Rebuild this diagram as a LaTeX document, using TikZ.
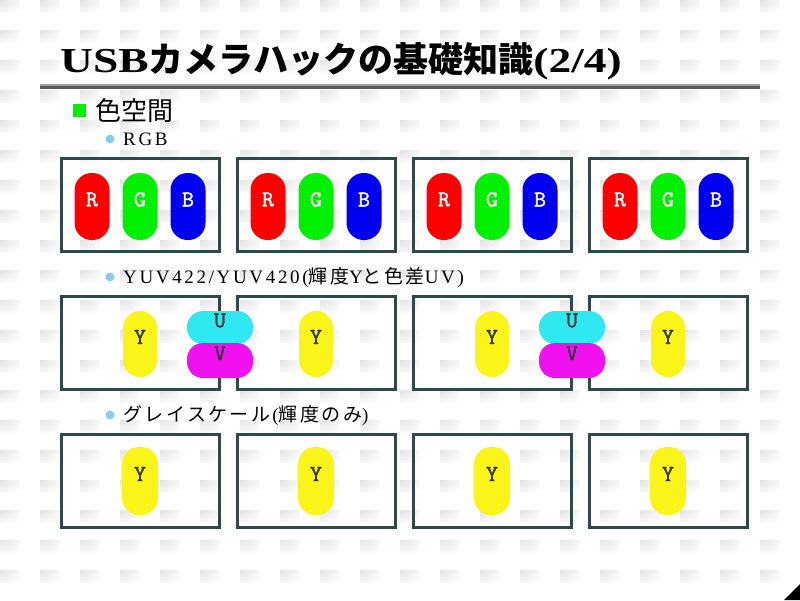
\documentclass[tikz,border=0pt]{standalone}
\usepackage{fontspec}
\setmainfont{Liberation Serif}
\newfontfamily\cjk{Noto Sans CJK JP}
\newfontfamily\subcjk{Noto Sans CJK JP}[LetterSpace=13]
\newfontfamily\titlelat{Liberation Serif}[FakeStretch=1.3]
\newfontfamily\sublat{Liberation Serif}[LetterSpace=14]
\newfontfamily\pillfont{lmmono10-regular.otf}[FakeBold=1.2]
\definecolor{panelc}{HTML}{2F4848}
\definecolor{tilegray}{gray}{0.84}
\definecolor{bgreen}{HTML}{00F000}
\definecolor{dotblue}{HTML}{88CCEE}
\definecolor{pR}{HTML}{FF0000}
\definecolor{pG}{HTML}{00F000}
\definecolor{pB}{HTML}{0000F0}
\definecolor{pY}{HTML}{FAF418}
\definecolor{pU}{HTML}{30E8F0}
\definecolor{pV}{HTML}{F010F0}
\definecolor{ink}{HTML}{333838}
\definecolor{ruleL}{HTML}{A0A0A0}
\definecolor{ruleD}{HTML}{585858}
\pgfdeclareradialshading{tileshade}{\pgfpoint{-50bp}{50bp}}{color(0bp)=(tilegray); color(70bp)=(white); color(150bp)=(white)}
\begin{document}
\begin{tikzpicture}[x=1pt,y=-1pt,
  panel/.style={draw=panelc, line width=3pt, minimum width=158pt, minimum height=93pt, inner sep=0pt},
  vpill/.style={rectangle, minimum width=35pt, minimum height=67pt, rounded corners=17pt, inner sep=0pt},
  hpill/.style={rectangle, minimum width=66pt, minimum height=33pt, rounded corners=16pt, inner sep=0pt},
  lw/.style={text=white, font=\pillfont\fontsize{23}{26}\selectfont, inner sep=0pt},
  ld/.style={lw, text=ink},
  txt/.style={anchor=base west, inner sep=0pt, text=black},
  subdot/.style={circle, fill=dotblue, minimum size=9pt, inner sep=0pt}]
\useasboundingbox (0,0) rectangle (800,600);
\fill[white] (0,0) rectangle (800,600);
\foreach \i in {0,...,19}{\foreach \j in {0,...,19}{
  \shade[shading=tileshade] (40*\i,30*\j) rectangle +(20,12);}}
% title
\fill[ruleL] (40,83.5) rectangle (760,86);
\fill[ruleD] (40,86) rectangle (760,88.5);
\node[txt] (title) at (60,72) {\fontsize{35}{40}\selectfont{\titlelat\bfseries USB}{\cjk\bfseries カメラハックの基礎知識}{\titlelat\bfseries (2/4)}};
% section
\node[fill=bgreen, minimum size=13pt, inner sep=0pt] (sq) at (79.5,110.5) {};
\node[txt] (sec) at (95,120) {\fontsize{26}{30}\selectfont\cjk 色空間};
% sub bullets
\node[subdot] (d1) at (110,139) {};
\node[txt] (s1) at (123,145) {\fontsize{19}{22}\selectfont\sublat RGB};
\node[subdot] (d2) at (110,277) {};
\node[txt] (s2) at (123,283) {\fontsize{19}{22}\selectfont{\sublat YUV422/YUV420(}{\subcjk 輝度}{\sublat Y}{\subcjk と色差}{\sublat UV)}};
\node[subdot] (d3) at (110,415) {};
\node[txt] (s3) at (123,421) {\fontsize{19}{22}\selectfont{\subcjk グレイスケール}\hspace{2pt}{\sublat (}{\subcjk 輝度のみ}{\sublat )}};
% panels
\foreach \c/\n in {140/1,316/2,492/3,668/4}{
  \node[panel] (ra\n) at (\c,204.5) {};
  \node[panel] (rb\n) at (\c,343) {};
  \node[panel] (rc\n) at (\c,481) {};
  % RGB pills
  \node[vpill, fill=pR] (pr\n) at (\c-48,206.5) {};
  \node[lw] (tr\n) at ([yshift=7pt]pr\n.center) {R};
  \node[vpill, fill=pG] (pg\n) at (\c,206.5) {};
  \node[lw] (tg\n) at ([yshift=7pt]pg\n.center) {G};
  \node[vpill, fill=pB] (pb\n) at (\c+48,206.5) {};
  \node[lw] (tb\n) at ([yshift=7pt]pb\n.center) {B};
  % YUV Y pills
  \node[vpill, minimum width=34pt, minimum height=66pt, fill=pY] (yb\n) at (\c,344) {};
  \node[ld] (tyb\n) at ([yshift=7pt]yb\n.center) {Y};
  % grayscale Y pills
  \node[vpill, minimum width=36pt, minimum height=68pt, fill=pY] (yc\n) at (\c,481) {};
  \node[ld] (tyc\n) at ([yshift=7pt]yc\n.center) {Y};
}
% U/V pills
\foreach \x/\n in {220/1,572/2}{
  \node[hpill, fill=pU] (u\n) at (\x,327.5) {};
  \node[ld] (tu\n) at ([yshift=7pt]u\n.center) {U};
  \node[hpill, minimum height=35pt, fill=pV] (v\n) at (\x,360.5) {};
  \node[ld] (tv\n) at ([yshift=7pt]v\n.center) {V};
}
% page corner
\fill[black] (784,600) -- (800,584) -- (800,600) -- cycle;
\end{tikzpicture}
\end{document}
